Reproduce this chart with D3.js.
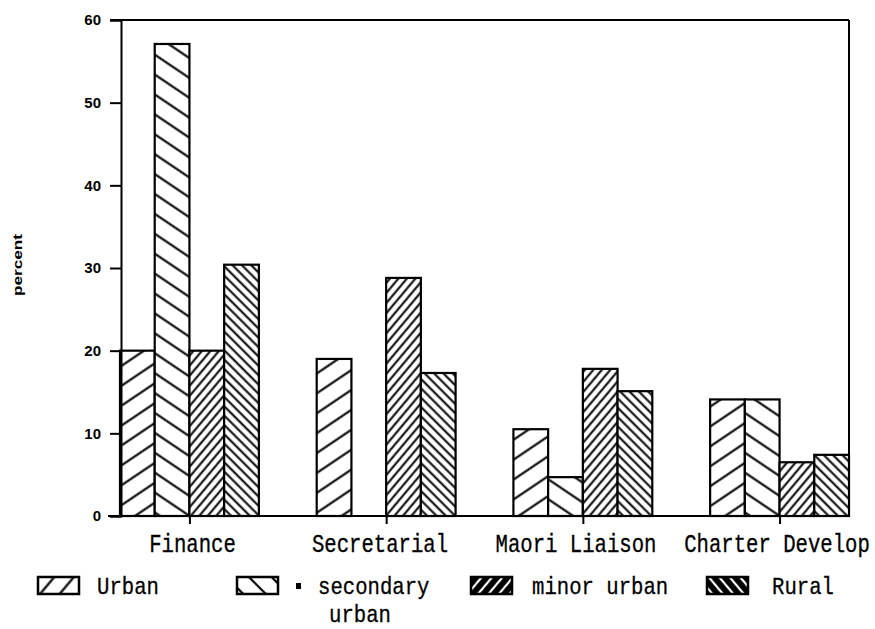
<!DOCTYPE html>
<html>
<head>
<meta charset="utf-8">
<script src="https://cdn.jsdelivr.net/npm/d3@7"></script>
<style>
  html, body { margin: 0; padding: 0; background: #fff; }
  svg { display: block; }
</style>
</head>
<body>
<svg id="chart" width="875" height="629"></svg>
<script>
// ---- data ----
const categories = ["Finance", "Secretarial", "Maori Liaison", "Charter Develop"];
const seriesNames = ["Urban", "secondary urban", "minor urban", "Rural"];
const urban = [20.0, 19.0, 10.5, 14.1];
const secondaryUrban = [57.1, 0, 4.7, 14.1];
const minorUrban = [20.0, 28.8, 17.8, 6.5];
const rural = [30.4, 17.3, 15.1, 7.4];
const yTicks = [0, 10, 20, 30, 40, 50, 60];
const yLabel = "percent";

const seriesValues = [urban, secondaryUrban, minorUrban, rural];

// ---- layout ----
const svg = d3.select("#chart");
const plotL = 120, plotR = 849, plotT = 20, plotB = 516;
const monoFont = "'Liberation Mono', 'DejaVu Sans Mono', monospace";
const sx = 0.826; // horizontal squeeze for the typewriter-like labels

const x0 = d3.scaleBand().domain(categories).range([plotL, plotR])
  .paddingInner(0.294).paddingOuter(0);
const x1 = d3.scaleBand().domain(seriesNames).range([0, x0.bandwidth()]).padding(0);
const y = d3.scaleLinear().domain([0, 60]).range([plotB, plotT]);

// ---- patterns ----
const defs = svg.append("defs");
function hatch(id, angle, spacing, strokeW, bg, fg) {
  const p = defs.append("pattern").attr("id", id)
    .attr("patternUnits", "userSpaceOnUse")
    .attr("width", spacing).attr("height", spacing)
    .attr("patternTransform", `rotate(${angle})`);
  p.append("rect").attr("width", spacing).attr("height", spacing).attr("fill", bg);
  p.append("line").attr("x1", spacing / 2).attr("x2", spacing / 2)
    .attr("y1", -1).attr("y2", spacing + 1)
    .attr("stroke", fg).attr("stroke-width", strokeW);
}
hatch("p0", 56, 16.5, 2.1, "#fff", "#000");
hatch("p1", -56, 16.5, 2.1, "#fff", "#000");
hatch("p2", 40, 6.5, 2, "#fff", "#000");
hatch("p3", -45, 6.6, 2, "#fff", "#000");
// legend versions
hatch("l0", 40, 15, 2.2, "#fff", "#000");
hatch("l1", -45, 16, 2.2, "#fff", "#000");
hatch("l2", 40, 8, 2.2, "#000", "#fff");
hatch("l3", -40, 8, 2.2, "#000", "#fff");

// ---- bars ----
const rows = [];
categories.forEach((c, i) => {
  seriesNames.forEach((s, j) => {
    rows.push({ cat: c, ser: s, idx: j, value: seriesValues[j][i] });
  });
});

svg.append("g").selectAll("rect")
  .data(rows.filter(d => d.value > 0))
  .join("rect")
  .attr("x", d => x0(d.cat) + x1(d.ser))
  .attr("y", d => y(d.value))
  .attr("width", x1.bandwidth())
  .attr("height", d => y(0) - y(d.value))
  .attr("fill", d => `url(#p${d.idx})`)
  .attr("stroke", "#000")
  .attr("stroke-width", 2.2);

// ---- frame / axes ----
const axisG = svg.append("g");
axisG.append("line").attr("x1", 110).attr("x2", plotR).attr("y1", plotT).attr("y2", plotT)
  .attr("stroke", "#000").attr("stroke-width", 2);
axisG.append("line").attr("x1", plotR).attr("x2", plotR).attr("y1", plotT).attr("y2", plotB)
  .attr("stroke", "#000").attr("stroke-width", 2);
axisG.append("line").attr("x1", 108).attr("x2", plotR).attr("y1", plotB).attr("y2", plotB)
  .attr("stroke", "#000").attr("stroke-width", 2);

const yAxis = d3.axisLeft(y).tickValues(yTicks).tickSize(11).tickPadding(9)
  .tickFormat(d3.format("d"));
const yg = svg.append("g").attr("transform", `translate(${plotL + 1},0)`).call(yAxis);
yg.select(".domain").attr("stroke", "#000").attr("stroke-width", 2);
yg.selectAll(".tick line").attr("stroke", "#000").attr("stroke-width", 2);
yg.selectAll(".tick text")
  .attr("font-family", "'Liberation Sans', Arial, sans-serif")
  .attr("font-weight", "bold")
  .attr("font-size", 15)
  .attr("fill", "#000");

const xAxisScale = d3.scalePoint().domain(categories)
  .range([x0(categories[0]) + x0.bandwidth() / 2, x0(categories[3]) + x0.bandwidth() / 2]);
const xg = svg.append("g").attr("transform", `translate(0,${plotB})`)
  .call(d3.axisBottom(xAxisScale).tickSize(8).tickFormat(""));
xg.select(".domain").remove();
xg.selectAll(".tick line").attr("stroke", "#000").attr("stroke-width", 2);

const labelCenters = [192.5, 380, 576, 777];
svg.append("g").selectAll("text")
  .data(categories)
  .join("text")
  .attr("transform", (d, i) => `translate(${labelCenters[i]},552) scale(${sx},1)`)
  .attr("text-anchor", "middle")
  .attr("font-family", monoFont)
  .attr("font-size", 25)
  .attr("fill", "#000")
  .attr("stroke", "#000").attr("stroke-width", 0.3)
  .text(d => d);

svg.append("text")
  .attr("transform", "translate(22,265) rotate(-90)")
  .attr("text-anchor", "middle")
  .attr("font-family", "'Liberation Sans', Arial, sans-serif")
  .attr("font-weight", "bold")
  .attr("font-size", 12)
  .attr("textLength", 62)
  .attr("lengthAdjust", "spacingAndGlyphs")
  .attr("fill", "#000")
  .text(yLabel);

// ---- legend ----
const legendItems = [
  { sw: 38, tx: 97, lines: ["Urban"], pat: "l0" },
  { sw: 237, tx: 318, lines: ["secondary", "urban"], pat: "l1", bullet: true },
  { sw: 471, tx: 532, lines: ["minor urban"], pat: "l2" },
  { sw: 707, tx: 772, lines: ["Rural"], pat: "l3" }
];
const lg = svg.append("g");
legendItems.forEach(it => {
  lg.append("rect").attr("x", it.sw).attr("y", 577).attr("width", 41).attr("height", 17)
    .attr("fill", `url(#${it.pat})`).attr("stroke", "#000").attr("stroke-width", 2.5);
  if (it.bullet) {
    lg.append("rect").attr("x", 296).attr("y", 583).attr("width", 5).attr("height", 6).attr("fill", "#000");
  }
  it.lines.forEach((t, k) => {
    lg.append("text")
      .attr("transform", `translate(${k === 0 ? it.tx : 329},${594 + k * 27.5}) scale(0.86,1)`)
      .attr("font-family", monoFont)
      .attr("font-size", 24)
      .attr("fill", "#000")
      .attr("stroke", "#000").attr("stroke-width", 0.3)
      .text(t);
  });
});
</script>
</body>
</html>
